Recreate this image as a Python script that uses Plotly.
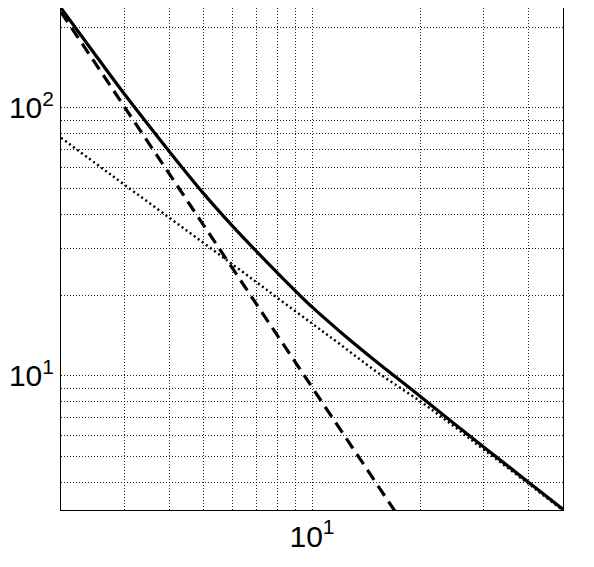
import plotly.graph_objects as go

# x sample points (reading positions)
x_vals = [2, 2.5, 3, 4, 5, 6, 7, 8, 10, 12, 15, 20, 25, 30, 40, 50]

# solid curve
solid_y = [236, 157, 113, 69, 47.8, 36.3, 29.2, 24.3, 18.1, 14.6, 11.4, 8.4, 6.6, 5.45, 4.02, 3.18]

# dotted curve
dotted_y = [77.5, 62.0, 51.8, 39.0, 31.3, 26.1, 22.4, 19.6, 15.7, 13.1, 10.45, 8.05, 6.45, 5.33, 3.97, 3.15]

# dashed curve
dashed_x = [2, 2.5, 3, 4, 5, 6, 7, 8, 10, 12, 15, 17, 18]
dashed_y = [228, 146, 101, 57, 36.5, 25.3, 18.6, 14.2, 9.1, 6.3, 4.05, 3.15, 2.8]

x_major = [10]
x_major_text = ["10<sup>1</sup>"]
x_minor = [3, 4, 5, 6, 7, 8, 9, 20, 30, 40]
y_major = [10, 100]
y_major_text = ["10<sup>1</sup>", "10<sup>2</sup>"]
y_minor = [4, 5, 6, 7, 8, 9, 20, 30, 40, 50, 60, 70, 80, 90, 200]

fig = go.Figure()
fig.add_trace(go.Scatter(x=x_vals, y=dotted_y, mode="lines", line_shape="spline",
                         line=dict(color="black", width=2.5, dash="2px,3px"), showlegend=False))
fig.add_trace(go.Scatter(x=dashed_x, y=dashed_y, mode="lines",
                         line=dict(color="black", width=3.2, dash="12px,7px"), showlegend=False))
fig.add_trace(go.Scatter(x=x_vals, y=solid_y, mode="lines", line_shape="spline",
                         line=dict(color="black", width=3.2), showlegend=False))

grid_style = dict(gridcolor="#222", gridwidth=1, griddash="1px,2px")

axis_common = dict(
    showline=True, mirror=True, linecolor="black", linewidth=1,
    showgrid=True, ticks="", zeroline=False, automargin=False,
    tickfont=dict(family="Liberation Sans, Arial, sans-serif", size=30, color="black"),
    **grid_style,
)

fig.update_xaxes(type="log", range=[0.30103, 1.69897], tickmode="array",
                 tickvals=x_major, ticktext=x_major_text,
                 minor=dict(tickmode="array", tickvals=x_minor, showgrid=True, ticks="", **grid_style),
                 **axis_common)
fig.update_yaxes(type="log", range=[0.5, 2.373], tickmode="array",
                 tickvals=y_major, ticktext=y_major_text,
                 minor=dict(tickmode="array", tickvals=y_minor, showgrid=True, ticks="", **grid_style),
                 **axis_common)

# the page body adds an 8px offset, so the figure is sized to compensate
fig.update_layout(
    width=586, height=559,
    margin=dict(l=53, r=31, t=0, b=57),
    paper_bgcolor="white", plot_bgcolor="white",
)

fig.write_html("out.html")
